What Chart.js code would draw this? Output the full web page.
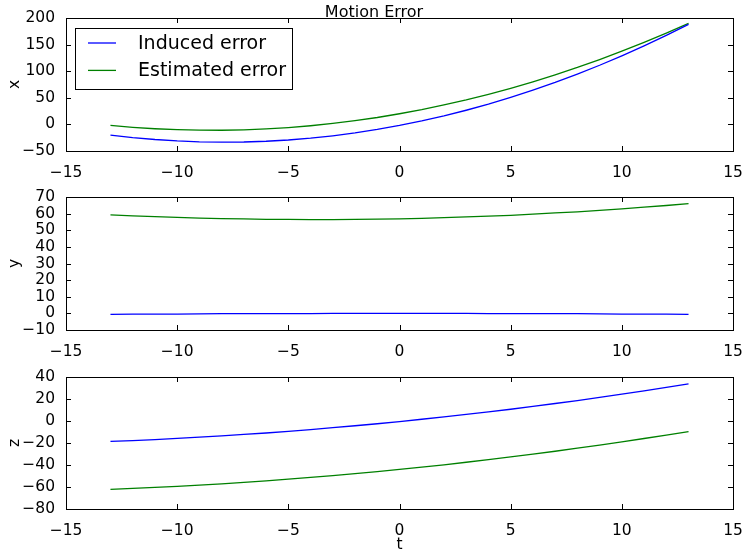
<!DOCTYPE html>
<html>
<head>
<meta charset="utf-8">
<script src="https://cdn.jsdelivr.net/npm/chart.js@4.4.0/dist/chart.umd.min.js"></script>
<style>
  body { margin: 0; background: #fff; }
  #wrap { position: relative; width: 746px; height: 554px; }
  canvas { position: absolute; left: 0; }
</style>
</head>
<body>
<div id="wrap">
  <canvas id="cx" width="746" height="177" style="top:0px"></canvas>
  <canvas id="cy" width="746" height="180" style="top:177px"></canvas>
  <canvas id="cz" width="746" height="197" style="top:357px"></canvas>
</div>
<script>
const title = 'Motion Error';
const seriesNames = ['Induced error', 'Estimated error'];

const t = [-13, -12, -11, -10, -9, -8, -7, -6, -5, -4, -3, -2, -1, 0,
           1, 2, 3, 4, 5, 6, 7, 8, 9, 10, 11, 12, 13];

const xInduced = [-20.0, -24.7, -28.4, -31.1, -32.8, -33.4, -33.1, -31.7, -29.3, -25.9, -21.4, -16.0, -9.5, -2.0,
                  6.5, 16.0, 26.6, 38.1, 50.7, 64.3, 78.9, 94.6, 111.2, 128.9, 147.6, 167.3, 188.0];
const xEstimated = [-1.9, -5.5, -8.2, -10.0, -10.9, -11.0, -10.2, -8.5, -5.9, -2.5, 1.8, 7.0, 13.0, 20.0,
                    27.8, 36.6, 46.0, 56.5, 67.9, 80.1, 93.2, 107.0, 121.9, 137.6, 154.2, 171.7, 189.9];

const yInduced = [-0.6, -0.5, -0.4, -0.4, -0.3, -0.2, -0.2, -0.1, -0.1, -0.1, 0, 0, 0, 0,
                  0, 0, 0, -0.1, -0.1, -0.1, -0.2, -0.2, -0.3, -0.4, -0.4, -0.5, -0.6];
const yEstimated = [59.3, 58.7, 58.2, 57.7, 57.3, 57.0, 56.8, 56.6, 56.5, 56.4, 56.4, 56.5, 56.7, 56.9,
                    57.2, 57.6, 58.0, 58.5, 59.0, 59.7, 60.4, 61.1, 62.0, 62.9, 63.9, 64.9, 66.0];

const zInduced = [-18.6, -17.8, -16.9, -15.8, -14.7, -13.5, -12.2, -10.9, -9.4, -7.8, -6.1, -4.3, -2.5, -0.5,
                  1.6, 3.7, 6.0, 8.3, 10.7, 13.3, 15.9, 18.6, 21.5, 24.4, 27.4, 30.5, 33.7];
const zEstimated = [-62.1, -61.3, -60.4, -59.4, -58.3, -57.1, -55.8, -54.4, -52.9, -51.3, -49.6, -47.9, -46.0, -44.0,
                    -41.9, -39.8, -37.5, -35.1, -32.7, -30.1, -27.5, -24.7, -21.9, -19.0, -15.9, -12.8, -9.6];

const tTicks = [-15, -10, -5, 0, 5, 10, 15];
const xTicks = [-50, 0, 50, 100, 150, 200];
const yTicks = [-10, 0, 10, 20, 30, 40, 50, 60, 70];
const zTicks = [-80, -60, -40, -20, 0, 20, 40];

const FONT = 'DejaVu Sans';
const minus = v => String(v).replace('-', '\u2212');

// matplotlib-ish frame: full box plus inward ticks on all four sides
const frame = {
  id: 'frame',
  afterDatasetsDraw(chart) {
    const { ctx, chartArea: a, scales } = chart;
    const len = 5;
    ctx.save();
    ctx.strokeStyle = '#000';
    ctx.lineWidth = 1;
    ctx.beginPath();
    scales.x.ticks.forEach(tk => {
      const px = Math.round(scales.x.getPixelForValue(tk.value)) + 0.5;
      ctx.moveTo(px, a.top); ctx.lineTo(px, a.top + len);
      ctx.moveTo(px, a.bottom); ctx.lineTo(px, a.bottom - len);
    });
    scales.y.ticks.forEach(tk => {
      const py = Math.round(scales.y.getPixelForValue(tk.value)) + 0.5;
      ctx.moveTo(a.left, py); ctx.lineTo(a.left + len, py);
      ctx.moveTo(a.right, py); ctx.lineTo(a.right - len, py);
    });
    ctx.stroke();
    ctx.strokeRect(Math.round(a.left) + 0.5, Math.round(a.top) + 0.5,
                   Math.round(a.right - a.left), Math.round(a.bottom - a.top));
    ctx.restore();
  }
};

// figure title + legend box, only on the first panel
const header = {
  id: 'header',
  afterDraw(chart) {
    const { ctx, chartArea: a } = chart;
    ctx.save();
    ctx.fillStyle = '#000';
    ctx.font = `16px "${FONT}"`;
    ctx.textAlign = 'center';
    ctx.textBaseline = 'alphabetic';
    ctx.fillText(title, 374, 17);

    ctx.font = `19px "${FONT}"`;
    const ds = chart.data.datasets;
    const tw = Math.max(...ds.map(d => ctx.measureText(d.label).width));
    const bx = a.left + 9, by = a.top + 10;
    const bw = 63 + tw + 6, bh = 61;
    ctx.fillStyle = '#fff';
    ctx.fillRect(bx, by, bw, bh);
    ctx.strokeStyle = '#000';
    ctx.lineWidth = 1;
    ctx.strokeRect(Math.round(bx) + 0.5, Math.round(by) + 0.5, Math.round(bw), bh);
    ctx.textAlign = 'left';
    ctx.textBaseline = 'middle';
    ds.forEach((d, i) => {
      const ry = by + 15 + i * 27.4;
      ctx.strokeStyle = d.borderColor;
      ctx.lineWidth = 1.3;
      ctx.beginPath();
      ctx.moveTo(bx + 13, ry); ctx.lineTo(bx + 41, ry);
      ctx.stroke();
      ctx.fillStyle = '#000';
      ctx.fillText(d.label, bx + 63, ry + 1);
    });
    ctx.restore();
  }
};

function panel(id, induced, estimated, ticks, yName, opts) {
  const pts = arr => t.map((v, i) => ({ x: v, y: arr[i] }));
  const tickFont = { family: FONT, size: 15.5 };
  return new Chart(document.getElementById(id), {
    type: 'line',
    data: {
      datasets: [
        { label: seriesNames[0], data: pts(induced), borderColor: '#0000ff', borderWidth: 1.3, pointRadius: 0, tension: 0 },
        { label: seriesNames[1], data: pts(estimated), borderColor: '#008000', borderWidth: 1.3, pointRadius: 0, tension: 0 }
      ]
    },
    options: {
      responsive: false,
      animation: false,
      layout: { padding: { left: 0, right: 13, top: opts.top, bottom: 0 } },
      plugins: { legend: { display: false }, tooltip: { enabled: false } },
      scales: {
        x: {
          type: 'linear',
          min: tTicks[0], max: tTicks[tTicks.length - 1],
          grid: { display: false },
          border: { display: false },
          afterBuildTicks: s => { s.ticks = tTicks.map(v => ({ value: v })); },
          afterFit: s => { s.height = opts.xh; s.paddingLeft = 0; s.paddingRight = 0; },
          ticks: { color: '#000', font: tickFont, padding: 5, maxRotation: 0, autoSkip: false, callback: minus },
          title: { display: !!opts.tLabel, text: opts.tLabel || '', color: '#000',
                   font: { family: FONT, size: 15.5 }, padding: { top: 0, bottom: 0 } }
        },
        y: {
          min: ticks[0], max: ticks[ticks.length - 1],
          grid: { display: false },
          border: { display: false },
          afterBuildTicks: s => { s.ticks = ticks.map(v => ({ value: v })); },
          afterFit: s => { s.width = 66; },
          ticks: { color: '#000', font: tickFont, padding: 3, autoSkip: false, callback: minus },
          title: { display: true, text: yName, color: '#000',
                   font: { family: FONT, size: 15.5 }, padding: { top: 6, bottom: 0 } }
        }
      }
    },
    plugins: opts.header ? [frame, header] : [frame]
  });
}

panel('cx', xInduced, xEstimated, xTicks, 'x', { top: 18, xh: 26, header: true });
panel('cy', yInduced, yEstimated, yTicks, 'y', { top: 20, xh: 27 });
panel('cz', zInduced, zEstimated, zTicks, 'z', { top: 20, xh: 45, tLabel: 't' });
</script>
</body>
</html>
